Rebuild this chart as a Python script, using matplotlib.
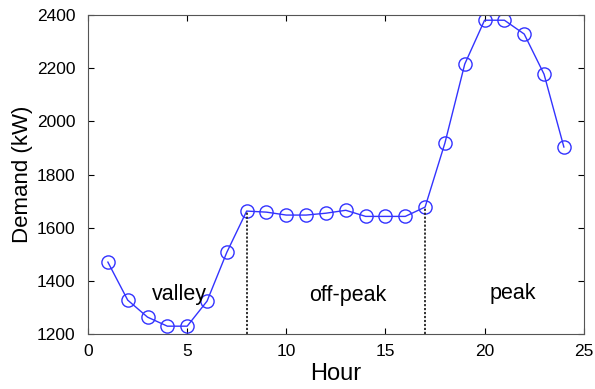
import matplotlib
matplotlib.use("Agg")
import matplotlib.pyplot as plt

hours = list(range(1, 25))
demand = [1471, 1328, 1264, 1230, 1230, 1324, 1508, 1663, 1659, 1648, 1648, 1655,
          1666, 1643, 1643, 1643, 1678, 1919, 2216, 2381, 2381, 2329, 2178, 1904]
boundaries = [8, 17]
period_labels = ["valley", "off-peak", "peak"]
period_x = [4.6, 13.1, 21.4]
period_y = [1350, 1345, 1352]

plt.rcParams['font.family'] = ['Liberation Sans', 'DejaVu Sans']
fig = plt.figure(figsize=(5.95, 3.89), dpi=100)
ax = fig.add_axes([0.148, 0.141, 0.833, 0.820])

ax.plot(hours, demand, color='#3333ff', lw=1.0, marker='o', ms=9.5,
        mfc='none', mec='#3333ff', mew=1.0)
for b in boundaries:
    ax.plot([b, b], [1200, demand[hours.index(b)]], color='#222222', ls=(0, (1.2, 1)), lw=1.3)
for lab, x, y in zip(period_labels, period_x, period_y):
    ax.text(x, y, lab, ha='center', va='center', fontsize=15.5)

ax.set_xlim(0, 25)
ax.set_ylim(1200, 2400)
ax.set_xticks([0, 5, 10, 15, 20, 25])
ax.set_yticks(range(1200, 2401, 200))
ax.tick_params(direction='in', top=True, right=True, labelsize=12.5, length=4)
ax.tick_params(axis='y', pad=9)
ax.tick_params(axis='x', pad=7)
for s in ax.spines.values():
    s.set_color('#555555')
ax.set_xlabel('Hour', fontsize=17, labelpad=3)
ax.set_ylabel('Demand (kW)', fontsize=16, labelpad=3)
fig.savefig('out.png', dpi=100)
